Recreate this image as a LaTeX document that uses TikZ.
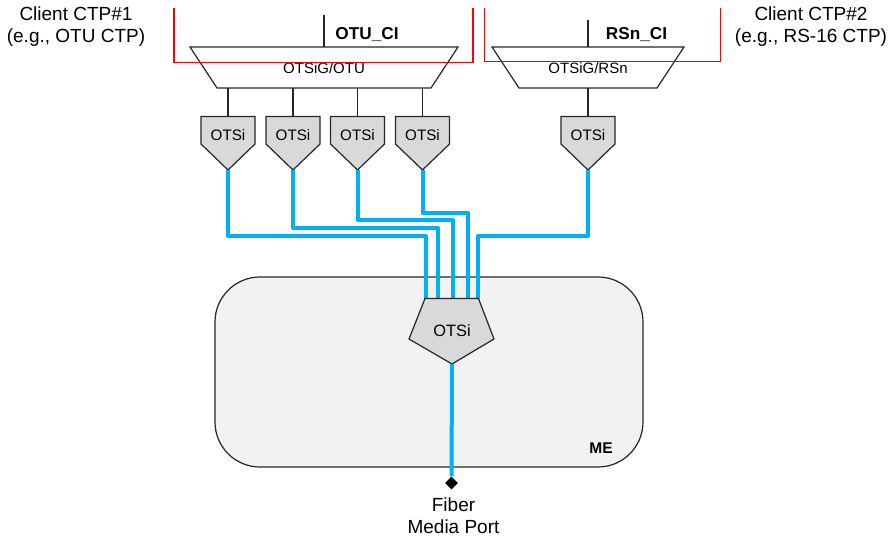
\documentclass[tikz,border=0pt]{standalone}
\usepackage{fontspec}
\usetikzlibrary{shapes.geometric}
\setmainfont{Liberation Sans}
\newcommand{\fs}[1]{\fontsize{#1}{#1}\selectfont}
\definecolor{fibercol}{HTML}{00B0F0}
\definecolor{otsicol}{HTML}{D9D9D9}
\definecolor{mecol}{HTML}{F2F2F2}

\begin{document}
\begin{tikzpicture}
      [x=1pt,y=-1pt,inner sep=0pt,
       every node/.style={text=black},
       fiber/.style={line width=4pt,draw=fibercol,line join=round},
       thinline/.style={line width=1.2pt,draw=black!85},
       redline/.style={line width=1.1pt,draw=red},
       otsilabel/.style={font=\fs{15.2}},
       muxlabel/.style={font=\fs{15}},
       cilabel/.style={font=\fs{17.2}\bfseries},
       clientlabel/.style={font=\fs{19},align=center}]
      \useasboundingbox (0,0) rectangle (888,540);

      % ME box
      \draw [thinline,fill=mecol,rounded corners=45pt] (215,277) rectangle (643,467);
      \node [font=\fs{15.5}\bfseries] (me) at (601,448.5) {ME};

      % adaptation trapezoids
      \draw [thinline] (190,47) -- (458,47) -- (431,88) -- (217,88) -- cycle;
      \draw [thinline] (492,47) -- (684,47) -- (657,88) -- (519,88) -- cycle;
      \node [muxlabel] (otu) at (324,68) {OTSiG/OTU};
      \node [muxlabel] (rsn) at (588,68) {OTSiG/RSn};
      \coordinate (otutop) at (324,47);
      \coordinate (rsntop) at (588,47);
      \coordinate (otuci) at (324,15);
      \coordinate (rsnci) at (588,20);
      \draw [thinline] (otuci) -- (otutop);
      \draw [thinline] (rsnci) -- (rsntop);

      % red client boxes
      \draw [redline] (174,8) -- (174,62.5) -- (473,62.5) -- (473,8);
      \draw [redline] (484.5,8) -- (484.5,61.5) -- (720.5,61.5) -- (720.5,8);
      \node [cilabel] (otulabel) at (367,35) {OTU\_CI};
      \node [cilabel] (rsnlabel) at (636.5,35) {RSn\_CI};

      % OTSi inputs
      \foreach \name/\x in {o1/228,o2/293,o3/357.5,o4/422.5,o5/588} {
        \draw [thinline,fill=otsicol] (\x-27,116.5) -- (\x+27,116.5) -- (\x+27,144)
          -- (\x,170) -- (\x-27,144) -- cycle;
        \node [otsilabel] (\name) at (\x,135) {OTSi};
        \coordinate (\name top) at (\x,116.5);
        \coordinate (\name tip) at (\x,170);
        \coordinate (\name mux) at (\x,88);
        \draw [thinline] (\name mux) -- (\name top);
      }

      % fiber lines to the ME
      \coordinate (in1) at (426,298.5);
      \coordinate (in2) at (438,298.5);
      \coordinate (in3) at (453,298.5);
      \coordinate (in4) at (468,298.5);
      \coordinate (in5) at (478,298.5);
      \coordinate (bend1) at (426,236);
      \coordinate (bend2) at (438,228);
      \coordinate (bend3) at (453,220);
      \coordinate (bend4) at (468,212.5);
      \coordinate (bend5) at (478,236);
      \foreach \i in {1,...,5}
      \draw [fiber] (o\i tip) |- (bend\i) -- (in\i);

      % OTSi in the ME
      \draw [thinline,fill=otsicol] (425,298.5) -- (478.5,298.5) -- (494,339) -- (452,364)
        -- (409,339) -- cycle;
      \node [font=\fs{16.4}] (o6) at (452,331) {OTSi};
      \coordinate (o6tip) at (452,364);

      % port
      \node [diamond,fill=black,minimum size=13pt] (port) at (451.5,483) {};
      \draw [fiber] (o6tip) -- (port);
      \node [clientlabel] (portlabel) at (453.5,516) {Fiber\\[3pt]Media Port};

      \node [clientlabel] (ctp1) at (76,26.5) {Client CTP\#1\\[3pt](e.g., OTU CTP)};
      \node [clientlabel] (ctp2) at (811,26.5) {Client CTP\#2\\[3pt](e.g., RS-16 CTP)};
    \end{tikzpicture}
\end{document}
